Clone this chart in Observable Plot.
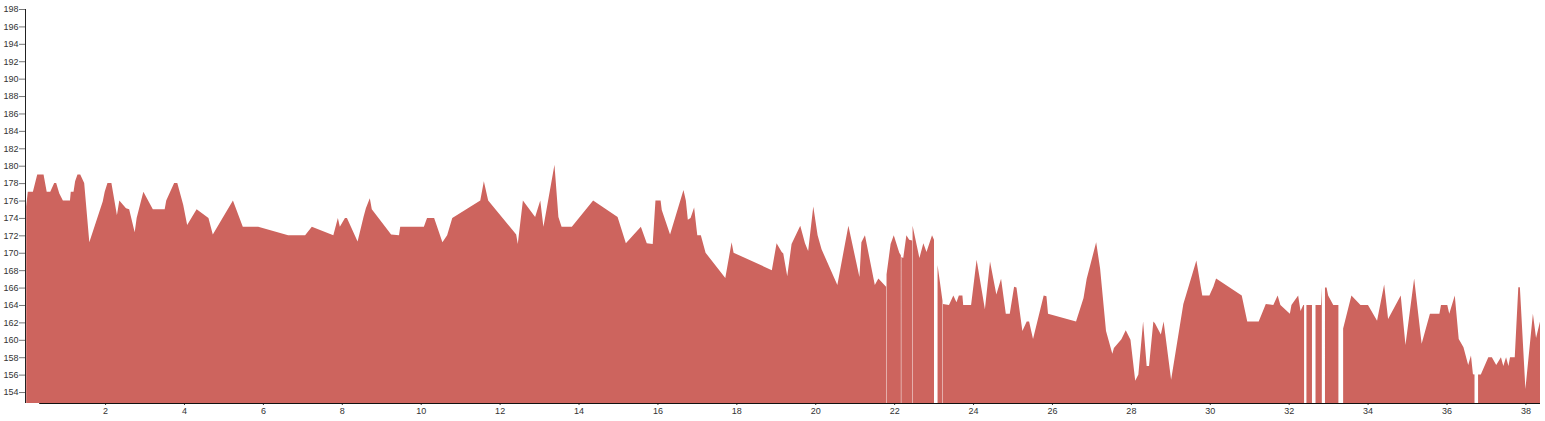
<!DOCTYPE html>
<html>
<head>
<meta charset="utf-8">
<script src="https://cdn.jsdelivr.net/npm/d3@7"></script>
<script src="https://cdn.jsdelivr.net/npm/@observablehq/plot@0.6"></script>
<style>
  html, body { margin: 0; padding: 0; background: #fff; }
  #chart svg { display: block; }
</style>
</head>
<body>
<div id="chart"></div>
<script>
// distance (x) and value (y); null = missing reading (gap in the area)
const distance = [
  0.00, 0.04, 0.17, 0.28, 0.44, 0.52, 0.61, 0.71, 0.76, 0.84, 0.93, 1.11, 1.13, 1.20, 1.24, 1.30, 1.37, 1.47,
  1.60, 1.94, 1.99, 2.06, 2.16, 2.30, 2.36, 2.53, 2.61, 2.75, 2.80, 2.97, 3.21, 3.51, 3.55, 3.75, 3.83, 3.98,
  4.08, 4.32, 4.62, 4.73, 5.24, 5.49, 5.88, 6.64, 7.07, 7.24, 7.785, 7.90, 7.95, 8.08, 8.13, 8.40, 8.55, 8.61,
  8.71, 8.76, 9.25, 9.45, 9.48, 10.08, 10.16, 10.34, 10.55, 10.67, 10.80, 11.51, 11.60, 11.71, 12.42, 12.46,
  12.59, 12.90, 13.03, 13.11, 13.19, 13.39, 13.49, 13.57, 13.83, 14.37, 14.99, 15.20, 15.58, 15.73, 15.88,
  15.95, 16.08, 16.11, 16.32, 16.66, 16.72, 16.77, 16.84, 16.93, 17.01, 17.10, 17.22, 17.72, 17.88, 17.93,
  18.90, 19.02, 19.15, 19.19, 19.29, 19.40, 19.62, 19.74, 19.82, 19.95, 20.06, 20.16, 20.56, 20.84, 21.12,
  21.17, 21.26, 21.51, 21.60, 21.795, 21.80, 21.807, 21.91, 21.99, 22.13, 22.17, 22.175, 22.182, 22.23, 22.31,
  22.38, 22.455, 22.46, 22.467, 22.64, 22.74, 22.82, 22.96, 23.01, 23.05, 23.10, 23.225, 23.23, 23.237, 23.39,
  23.50, 23.58, 23.64, 23.73, 23.75, 23.95, 24.09, 24.30, 24.43, 24.59, 24.71, 24.83, 24.93, 25.04, 25.10,
  25.25, 25.36, 25.42, 25.52, 25.79, 25.86, 25.90, 26.61, 26.80, 26.88, 27.12, 27.22, 27.37, 27.53, 27.57,
  27.76, 27.87, 27.99, 28.11, 28.19, 28.31, 28.40, 28.46, 28.57, 28.61, 28.76, 28.83, 29.02, 29.33, 29.66,
  29.81, 29.99, 30.09, 30.16, 30.81, 30.95, 31.24, 31.42, 31.61, 31.72, 31.79, 32.03, 32.07, 32.24, 32.30,
  32.37, 32.39, 32.42, 32.45, 32.59, 32.63, 32.68, 32.82, 32.84, 32.86, 32.92, 32.96, 33.00, 33.13, 33.26,
  33.32, 33.38, 33.59, 33.82, 34.01, 34.24, 34.42, 34.52, 34.84, 34.96, 35.18, 35.37, 35.58, 35.82, 35.86,
  36.02, 36.07, 36.21, 36.31, 36.43, 36.55, 36.62, 36.67, 36.71, 36.75, 36.80, 36.87, 37.06, 37.15, 37.26,
  37.38, 37.44, 37.51, 37.57, 37.61, 37.73, 37.82, 37.86, 38.00, 38.19, 38.27, 38.37
];
const value = [
  175.3, 177, 177, 179, 179, 177, 177, 178, 178, 176.8, 176, 176, 177, 177, 178.2, 179, 179, 178,
  171.2, 175.9, 177, 178, 178, 174.3, 176, 175.1, 175, 172.35, 174, 177, 175, 175, 176, 178, 178, 175.5,
  173.2, 175, 174, 172.1, 176, 173, 173, 172, 172, 173, 172, 174, 173, 174, 174, 171.3, 174.1, 175.1,
  176.25, 175, 172.1, 172, 173, 173, 174, 174, 171.2, 172, 174, 176, 178.2, 176, 172.1, 171,
  176, 174.1, 176, 173, 175, 180.1, 174.1, 173, 173, 176, 174.1, 171.1, 173, 171.1, 171,
  176, 176, 174.9, 172.1, 177.2, 176, 173.8, 174, 175.2, 172, 172, 170, 167.1, 171.2, 170,
  168, 171.1, 170.1, 169.9, 167.3, 171, 173.1, 171.1, 170.2, 175.3, 172, 170.4, 166.3, 173.1, 167.2,
  171.2, 172, 166.3, 167.05, 166.1, null, 167.5, 171, 172, 170, 169.7, null, 169.5, 169.4, 172,
  171.5, 171.4, null, 173.1, 169.4, 171.1, 170.1, 172, 171.5, null, 168.6, 164.5, null, 164.1, 164,
  165.1, 164.3, 165.1, 165.1, 164, 164, 169.2, 163.5, 169, 165.2, 167, 163, 163, 166.1, 166,
  161, 162.1, 162.1, 160.1, 165.1, 165, 163, 162.1, 164.8, 167, 171.2, 168.2, 161, 158.4, 159.05,
  160.05, 161.1, 160, 155.3, 156, 162.1, 157, 157, 162.1, 161.9, 160.6, 162.1, 155.4, 164.1, 169.1,
  165.1, 165.1, 166.1, 167.05, 165.1, 162.1, 162.1, 164.1, 164, 165.1, 164, 163, 164, 165.1, 163.3,
  164, 164, null, 164, 164, null, 164, 164, 166, null, 166, 166, 165.1, 164, 164,
  null, 161.3, 165.1, 164, 164, 162.2, 166.35, 162.4, 165.1, 159.4, 167.05, 159.55, 163, 163, 164,
  164, 163, 165.1, 160.1, 159.15, 157.1, 158.2, 156.05, 156, null, 156, 156, 158, 158, 157.1,
  158, 157, 158, 157, 158, 158, 166.05, 166.05, 154.35, 163, 160.2, 162.1
];
const xTicks = d3.range(2, 39, 2);
const yTicks = d3.range(154, 199, 2);
const xDomain = [-0.03, 38.37];
const yDomain = [152.74, 198];
const xAxisStart = 0.33;
const fillColor = "#cd645e";

const data = distance.map((d, i) => ({x: d, y: value[i]}));

const chart = Plot.plot({
  width: 1545,
  height: 421,
  marginLeft: 25,
  marginRight: 5,
  marginTop: 9,
  marginBottom: 18,
  style: {fontFamily: "'Liberation Sans', Arial, sans-serif", fontSize: "9px", color: "#333", background: "#fff"},
  x: {domain: xDomain},
  y: {domain: yDomain},
  marks: [
    Plot.areaY(data, {x: "x", y1: yDomain[0], y2: "y", fill: fillColor, curve: "linear"}),
    Plot.axisY({ticks: yTicks, tickSize: 6, tickPadding: 1, label: null, stroke: "#777", fill: "#333", fontSize: 9}),
    Plot.axisX({ticks: xTicks, tickSize: 2, tickPadding: 2, label: null, stroke: "#333", fill: "#333", fontSize: 9}),
    Plot.ruleX([xDomain[0]], {stroke: "#222"}),
    Plot.ruleY([yDomain[0]], {x1: xAxisStart, x2: xDomain[1], stroke: "#111"})
  ]
});
document.getElementById("chart").appendChild(chart);
</script>
</body>
</html>
